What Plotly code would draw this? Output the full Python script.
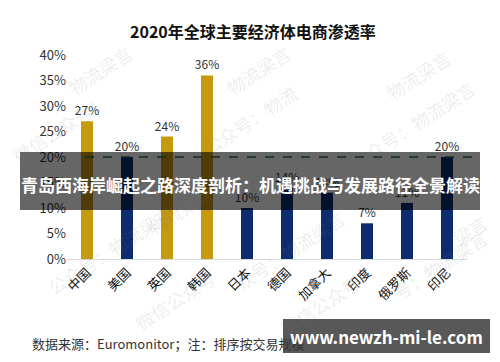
import plotly.graph_objects as go

categories = ["中国", "美国", "英国", "韩国", "日本", "德国", "加拿大", "印度", "俄罗斯", "印尼"]
values = [27, 20, 24, 36, 10, 14, 13, 7, 11, 20]
highlight = [True, False, True, True, False, False, False, False, False, False]
tick_vals = [0, 5, 10, 15, 20, 25, 30, 35, 40]
tick_text = ["0%", "5%", "10%", "15%", "20%", "25%", "30%", "35%", "40%"]
reference_level = 20

GOLD = "#C59A0E"
NAVY = "#0C2C6E"
FONT = "Noto Sans CJK SC"

W, H = 500, 362
ML, MR, MT, MB = 67, 33, 55, 103
PW, PH = W - ML - MR, H - MT - MB


def px(x):
    return (x - ML) / PW


def py(y):
    return (H - MB - y) / PH


def note(text, x, y, size, color, angle=0, xanchor="center"):
    return dict(text=text, x=px(x), y=py(y), xref="paper", yref="paper",
                showarrow=False, textangle=angle, xanchor=xanchor, yanchor="middle",
                font=dict(size=size, color=color, family=FONT))


colors = [GOLD if h else NAVY for h in highlight]

fig = go.Figure()
fig.add_trace(go.Bar(
    x=categories, y=values, marker_color=colors, marker_line_width=0,
    text=[f"{v}%" for v in values], textposition="outside", constraintext="none",
    textfont=dict(size=12, color="#333333", family=FONT),
    cliponaxis=False, hoverinfo="skip",
))

shapes = [dict(type="line", xref="paper", yref="y", x0=px(85), x1=px(473),
               y0=reference_level, y1=reference_level,
               line=dict(color="#2A7048", width=1.5, dash="dash"))]

# watermarks
wm = [
    ("物流梁言", 100, 70), ("物流梁言", 258, 70), ("物流梁言", 418, 75),
    ("微信公众号：", 60, 128), ("公众号：物流", 250, 120), ("众号：物流梁言", 420, 120),
    ("物流梁言", 180, 210), ("梁言", 470, 230),
    ("公众号：物流梁言", 110, 250), ("众号：物流梁言", 290, 250), ("号：物流梁言", 440, 265),
    ("微信公众号", 175, 300), ("微信公众号", 320, 305),
]
ann = [note(t, x, y, 18, "rgba(120,120,120,0.15)", angle=-33) for t, x, y in wm]

ann.append(note("<b>2020年全球主要经济体电商渗透率</b>", 253, 31, 16, "#111111"))
ann.append(note("数据来源：Euromonitor；注：排序按交易规模", 30, 343, 13, "#333333", xanchor="left"))

shapes += [
    dict(type="rect", xref="paper", yref="paper", x0=px(20), x1=px(480),
         y0=py(210), y1=py(152), fillcolor="rgba(0,0,0,0.6)", line_width=0, layer="above"),
    dict(type="rect", xref="paper", yref="paper", x0=px(283), x1=px(490),
         y0=py(353), y1=py(319), fillcolor="rgba(70,70,70,0.9)", line_width=0, layer="above"),
]
ann.append(note("<b>青岛西海岸崛起之路深度剖析：机遇挑战与发展路径全景解读</b>", 250, 184, 17, "white"))
ann.append(note("<b>www.newzh-mi-le.com</b>", 386, 336, 17, "white"))

fig.update_layout(
    width=W, height=H,
    margin=dict(l=ML, r=MR, t=MT, b=MB),
    paper_bgcolor="white", plot_bgcolor="white",
    showlegend=False, bargap=0.7,
    annotations=ann,
    shapes=shapes,
    xaxis=dict(tickangle=-45, tickfont=dict(size=13, color="#111111", family=FONT),
               showline=True, linecolor="#D9D9D9", linewidth=1, ticks="", showgrid=False),
    yaxis=dict(range=[0, 40], tickvals=tick_vals, ticktext=tick_text, showgrid=False,
               zeroline=False, showline=False, ticks="",
               tickfont=dict(size=13, color="#333333", family=FONT)),
)

fig.write_html("out.html", config={"displayModeBar": False},
               post_script="document.body.style.margin='0';")
